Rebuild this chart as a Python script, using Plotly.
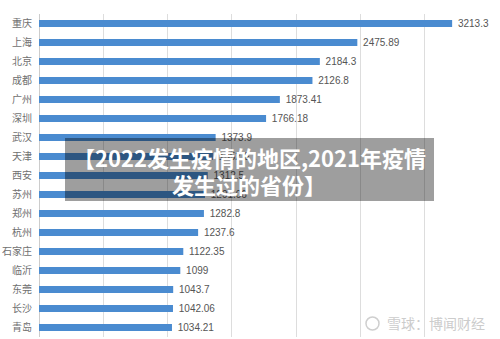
import plotly.graph_objects as go

cities = ["重庆", "上海", "北京", "成都", "广州", "深圳", "武汉", "天津", "西安",
          "苏州", "郑州", "杭州", "石家庄", "临沂", "东莞", "长沙", "青岛"]
values = [3213.3, 2475.89, 2184.3, 2126.8, 1873.41, 1766.18, 1373.9, 1352.6, 1312.5,
          1291.06, 1282.8, 1237.6, 1122.35, 1099, 1043.7, 1042.06, 1034.21]
value_labels = [str(v) for v in values]
x_ticks = [0, 500, 1000, 1500, 2000, 2500, 3000, 3500]

banner_lines = ["【2022发生疫情的地区,2021年疫情", "发生过的省份】"]
watermark = "雪球：博闻财经"

W, H = 500, 339
L, R, T, B = 39, 11, 14, 2
pw, ph = W - L - R, H - T - B


def px(xp):
    return (xp - L) / pw


def py(yp):
    return (H - B - yp) / ph


fig = go.Figure(go.Bar(
    x=values, y=cities, orientation="h",
    marker=dict(color="#4a8bd0", line=dict(width=0)),
    text=[" " + t for t in value_labels], textposition="outside",
    constraintext="none",
    textfont=dict(family="Liberation Sans, Arial, sans-serif", size=10, color="#555555"),
    cliponaxis=False, width=0.36,
))

fig.update_layout(
    width=W, height=H,
    margin=dict(l=L, r=R, t=T, b=B),
    paper_bgcolor="white", plot_bgcolor="white",
    showlegend=False,
    uniformtext=dict(mode=False),
    xaxis=dict(range=[0, 3500], tickvals=x_ticks, showticklabels=False,
               showgrid=True, gridcolor="#dddddd", gridwidth=1,
               zeroline=True, zerolinecolor="#cccccc", zerolinewidth=1,
               fixedrange=True),
    yaxis=dict(autorange="reversed", showgrid=False, ticks="",
               tickfont=dict(family="Noto Sans CJK SC, sans-serif", size=10, color="#707070"),
               ticklabelstandoff=6, showline=False),
    shapes=[
        dict(type="rect", xref="paper", yref="paper",
             x0=px(65), x1=px(434), y0=py(201), y1=py(138),
             fillcolor="rgba(0,0,0,0.38)", line=dict(width=0), layer="above"),
        dict(type="circle", xref="paper", yref="paper",
             x0=px(366), x1=px(379), y0=py(330), y1=py(317),
             line=dict(color="#cfcfcf", width=1.5), fillcolor="rgba(0,0,0,0)"),
    ],
    annotations=[
        dict(text=banner_lines[0], xref="paper", yref="paper",
             x=px(249), y=py(157), showarrow=False, xanchor="center", yanchor="middle",
             font=dict(family="Noto Sans CJK SC, sans-serif", size=22, color="white", weight="bold")),
        dict(text=banner_lines[1], xref="paper", yref="paper",
             x=px(249), y=py(184), showarrow=False, xanchor="center", yanchor="middle",
             font=dict(family="Noto Sans CJK SC, sans-serif", size=22, color="white", weight="bold")),
        dict(text=watermark, xref="paper", yref="paper",
             x=px(487), y=py(323), showarrow=False, xanchor="right", yanchor="middle",
             font=dict(family="Noto Sans CJK SC, sans-serif", size=14, color="#cccccc")),
    ],
)

fig.write_html("out.html")
